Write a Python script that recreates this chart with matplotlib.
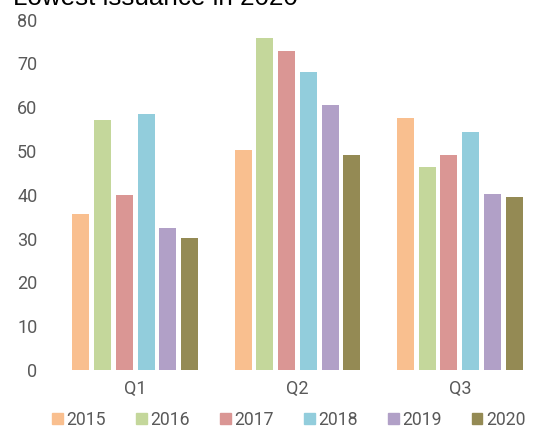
import numpy as np
import matplotlib.pyplot as plt
from matplotlib.patches import Rectangle

quarters = ['Q1', 'Q2', 'Q3']
years = ['2015', '2016', '2017', '2018', '2019', '2020']
issuance = {
    '2015': [35.6, 50.2, 57.5],
    '2016': [57.1, 75.7, 46.4],
    '2017': [39.9, 72.8, 49.1],
    '2018': [58.4, 68.1, 54.3],
    '2019': [32.4, 60.4, 40.2],
    '2020': [30.1, 49.0, 39.6],
}
colors = ['#F9BF8F', '#C4D79B', '#DA9694', '#92CDDC', '#B1A0C7', '#948A54']
yticks = [0, 10, 20, 30, 40, 50, 60, 70, 80]

plt.rcParams['font.family'] = ['Roboto', 'DejaVu Sans']
grey = '#595959'

fig = plt.figure(figsize=(5.47, 4.28), dpi=100)
ax = fig.add_axes([0.0987, 0.1355, 0.8903, 0.8189])

x = np.arange(len(quarters))
step = 0.134
for i, yr in enumerate(years):
    offs = (i - 2.5) * step
    ax.bar(x + offs, issuance[yr], width=0.105, color=colors[i], label=yr)

ax.set_xlim(-0.5, 2.5)
ax.set_ylim(0, 80)
ax.set_yticks(yticks)
ax.set_xticks(x)
ax.set_xticklabels(quarters)
ax.tick_params(axis='both', length=0, labelsize=13, labelcolor=grey)
ax.tick_params(axis='y', pad=12)
ax.tick_params(axis='x', pad=7)
for s in ax.spines.values():
    s.set_visible(False)

handles = [Rectangle((0, 0), 1, 1, color=c) for c in colors]
fig.legend(handles, years, loc='center', bbox_to_anchor=(0.528, 0.019),
           ncol=6, frameon=False, fontsize=12.7, labelcolor=grey,
           handlelength=0.6, handleheight=0.6, handletextpad=0.2,
           columnspacing=1.72, borderpad=0, borderaxespad=0)

fig.text(13 / 547, 1 - 5 / 428, 'Lowest issuance in 2020', fontsize=18.7,
         family='Liberation Sans', color='black', va='baseline', ha='left')

fig.savefig('out.png', dpi=100)
